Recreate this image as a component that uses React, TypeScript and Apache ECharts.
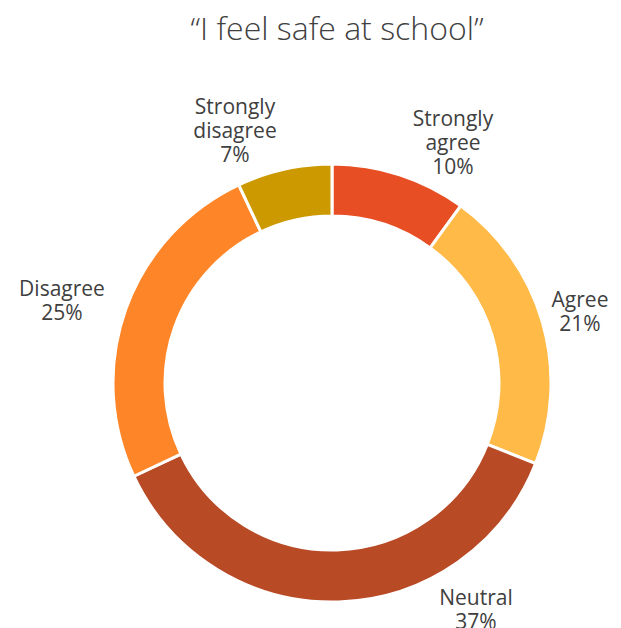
import React, { useEffect, useRef } from "react";
import * as echarts from "echarts";

const TITLE = "\u201CI feel safe at school\u201D";
const categories = ["Strongly agree", "Agree", "Neutral", "Disagree", "Strongly disagree"];
const values = [10, 21, 37, 25, 7];
const colors = ["#E84E24", "#FFBA48", "#B84A26", "#FF8628", "#CC9900"];
// label centres (layout only)
const labelPos: [number, number][] = [
  [453, 142],
  [580, 311],
  [476, 609],
  [62, 300],
  [235, 130],
];

export default function App() {
  const ref = useRef<HTMLDivElement>(null);
  useEffect(() => {
    if (!ref.current) return;
    const chart = echarts.init(ref.current, undefined, { renderer: "svg" });
    chart.setOption({
      animation: false,
      backgroundColor: "#ffffff",
      title: {
        text: TITLE,
        left: 332,
        textAlign: "center",
        top: 6,
        textStyle: {
          fontFamily: "Open Sans",
          fontWeight: 300,
          fontSize: 32,
          color: "#404040",
        },
      },
      series: [
        {
          type: "pie",
          center: [332, 383],
          radius: [167, 219],
          startAngle: 90,
          clockwise: true,
          avoidLabelOverlap: false,
          data: categories.map((c, i) => ({
            name: c,
            value: values[i],
            itemStyle: { color: colors[i] },
          })),
          itemStyle: { borderColor: "#ffffff", borderWidth: 3 },
          label: {
            show: true,
            position: "outside",
            formatter: (p: any) => p.name.replace("Strongly ", "Strongly\n") + "\n" + p.value + "%",
            fontFamily: "Open Sans",
            fontSize: 21,
            lineHeight: 24,
            color: "#404040",
          },
          labelLine: { show: false },
          labelLayout: (params: any) => {
            const p = labelPos[params.dataIndex];
            return { x: p[0], y: p[1], align: "center", verticalAlign: "middle" };
          },
        },
      ],
    });
    return () => chart.dispose();
  }, []);
  return (
    <div
      ref={ref}
      style={{ position: "fixed", left: 0, top: 0, width: 621, height: 628 }}
    />
  );
}
